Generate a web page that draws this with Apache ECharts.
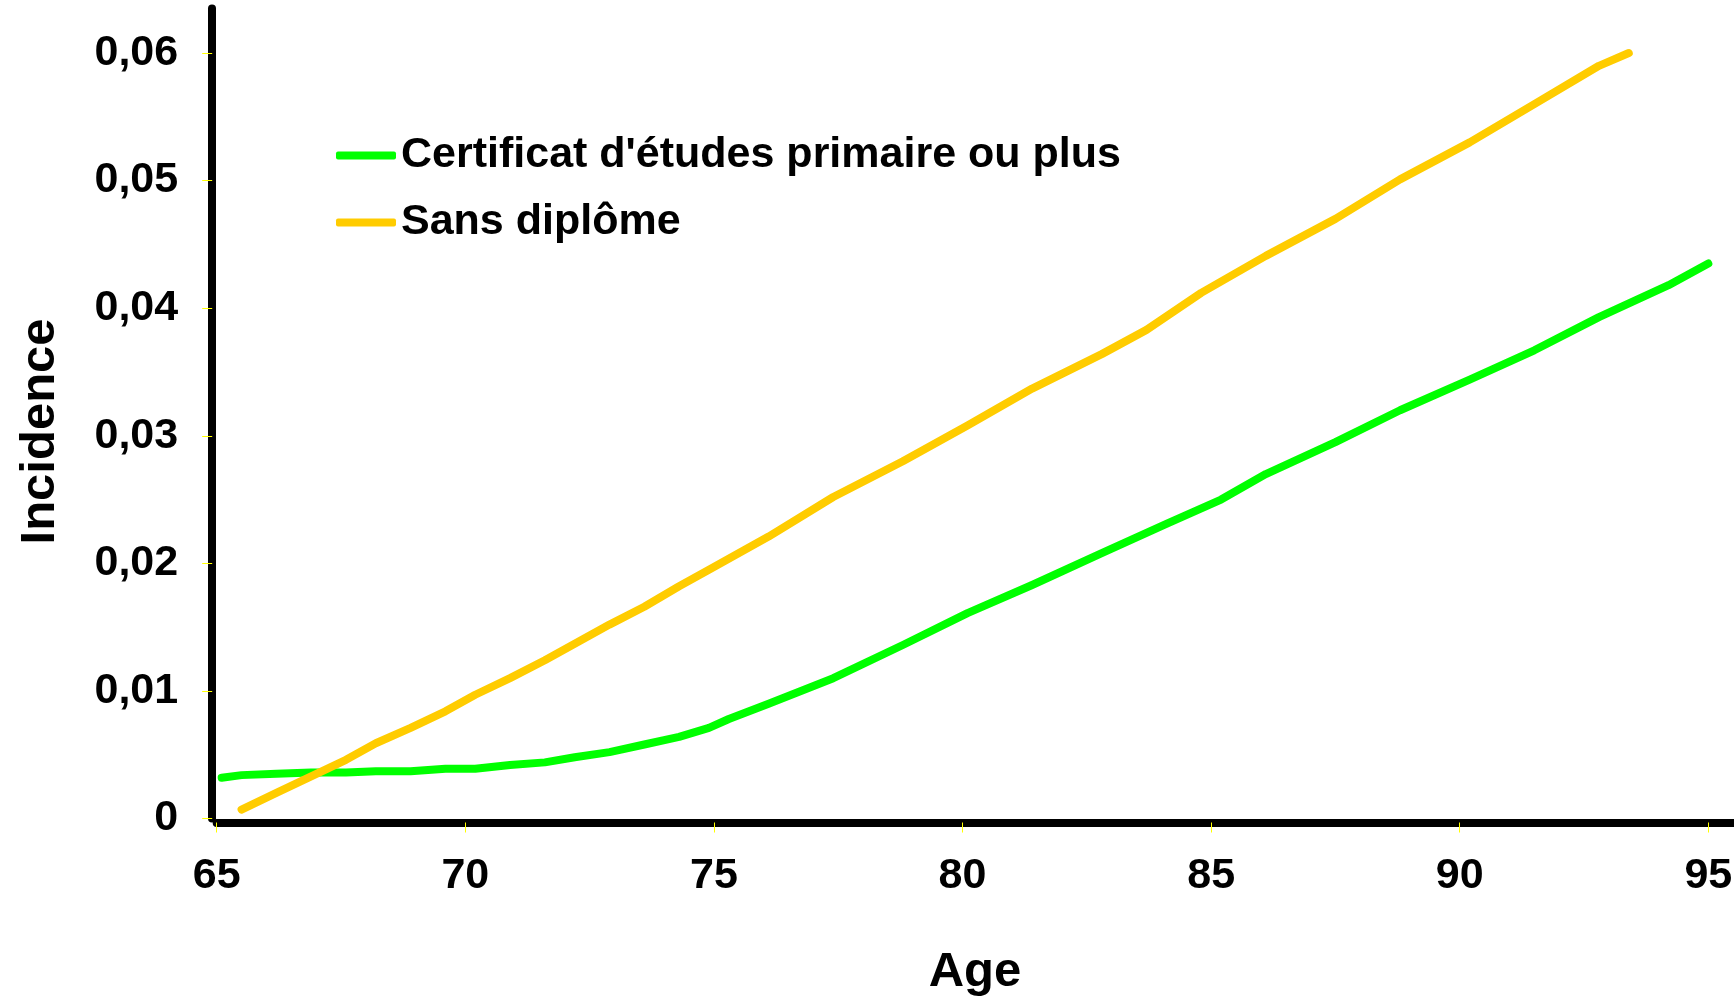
<!DOCTYPE html>
<html>
<head>
<meta charset="utf-8">
<script src="https://cdn.jsdelivr.net/npm/echarts@6/dist/echarts.min.js"></script>
<style>
html,body{margin:0;padding:0;background:#ffffff;}
#chart{width:1734px;height:998px;}
</style>
</head>
<body>
<div id="chart"></div>
<script>
// ---- data ----
const seriesNames = ["Certificat d'études primaire ou plus", "Sans diplôme"];

const greenAges   = [65.1, 65.5, 66.2, 66.9, 67.6, 68.2, 68.9, 69.6, 70.2, 70.9, 71.6, 72.2, 72.9, 73.6, 74.3, 74.9, 75.3, 76.1, 77.4, 78.8, 80.1, 81.4, 82.8, 84.1, 85.2, 86.1, 87.5, 88.8, 90.2, 91.5, 92.8, 94.2, 95.0];
const greenValues = [0.0032, 0.0034, 0.0035, 0.0036, 0.0036, 0.0037, 0.0037, 0.0039, 0.0039, 0.0042, 0.0044, 0.0048, 0.0052, 0.0058, 0.0064, 0.0071, 0.0078, 0.0090, 0.0110, 0.0136, 0.0161, 0.0183, 0.0208, 0.0231, 0.0250, 0.0270, 0.0295, 0.0320, 0.0344, 0.0367, 0.0393, 0.0418, 0.0435];

const orangeAges   = [65.5, 66.2, 66.9, 67.6, 68.2, 68.9, 69.6, 70.2, 70.9, 71.6, 72.2, 72.9, 73.6, 74.3, 74.9, 76.1, 77.4, 78.8, 80.1, 81.4, 82.8, 83.7, 84.8, 86.1, 87.5, 88.8, 90.2, 91.5, 92.8, 93.4];
const orangeValues = [0.0007, 0.0020, 0.0033, 0.0046, 0.0059, 0.0071, 0.0084, 0.0097, 0.0110, 0.0124, 0.0137, 0.0152, 0.0166, 0.0182, 0.0195, 0.0221, 0.0252, 0.0280, 0.0308, 0.0337, 0.0364, 0.0383, 0.0412, 0.0441, 0.0470, 0.0501, 0.0530, 0.0560, 0.0590, 0.0600];

const xTickValues = [65, 70, 75, 80, 85, 90, 95];
const yTickValues = [0, 0.01, 0.02, 0.03, 0.04, 0.05, 0.06];
const xAxisName = "Age";
const yAxisName = "Incidence";

// ---- chart ----
const FONT = "'Liberation Sans', Arial, sans-serif";
const zip = (a, b) => a.map((v, i) => [v, b[i]]);

const chart = echarts.init(document.getElementById('chart'), null, {renderer: 'canvas'});
chart.setOption({
  animation: false,
  backgroundColor: '#ffffff',
  textStyle: {fontFamily: FONT},
  grid: {left: 216.7, right: 0.8, top: 8.4, bottom: 179.5, containLabel: false, outerBoundsMode: 'none'},
  legend: {
    left: 331, top: 129, orient: 'vertical', itemGap: 24,
    itemWidth: 60, itemHeight: 8, icon: 'roundRect',
    textStyle: {fontFamily: FONT, fontSize: 43, fontWeight: 'bold', color: '#000', lineHeight: 43},
    data: seriesNames
  },
  xAxis: {
    type: 'value', min: 65, max: 95.5, interval: 5, offset: 4,
    name: xAxisName, nameLocation: 'middle', nameGap: 125,
    nameTextStyle: {fontFamily: FONT, fontSize: 49, fontWeight: 'bold', color: '#000'},
    axisLine: {show: true, onZero: false, lineStyle: {color: '#000', width: 8}},
    axisTick: {show: true, length: 10, lineStyle: {color: '#ffff00', width: 1}, customValues: xTickValues},
    axisLabel: {customValues: xTickValues, margin: 32, fontFamily: FONT, fontSize: 43, fontWeight: 'bold', color: '#000'},
    splitLine: {show: false}
  },
  yAxis: {
    type: 'value', min: 0, max: 0.0635, interval: 0.01, offset: 4.5,
    name: yAxisName, nameLocation: 'middle', nameGap: 147, nameRotate: 90,
    nameTextStyle: {fontFamily: FONT, fontSize: 49, fontWeight: 'bold', color: '#000', padding: [0, 36, 0, 0]},
    axisLine: {show: true, onZero: false, lineStyle: {color: '#000', width: 8}},
    axisTick: {show: true, length: 10, lineStyle: {color: '#ffff00', width: 1}, customValues: yTickValues},
    axisLabel: {
      customValues: yTickValues, margin: 34, fontFamily: FONT, fontSize: 43, fontWeight: 'bold', color: '#000',
      formatter: v => (Math.abs(v) < 1e-9 ? '0' : v.toFixed(2).replace('.', ','))
    },
    splitLine: {show: false}
  },
  series: [
    {
      name: seriesNames[0], type: 'line', data: zip(greenAges, greenValues),
      symbol: 'none', smooth: false, clip: true,
      lineStyle: {color: '#00ff00', width: 8, cap: 'round', join: 'round'},
      itemStyle: {color: '#00ff00'}
    },
    {
      name: seriesNames[1], type: 'line', data: zip(orangeAges, orangeValues),
      symbol: 'none', smooth: false, clip: true,
      lineStyle: {color: '#ffcc00', width: 8, cap: 'round', join: 'round'},
      itemStyle: {color: '#ffcc00'}
    }
  ]
});
</script>
</body>
</html>
